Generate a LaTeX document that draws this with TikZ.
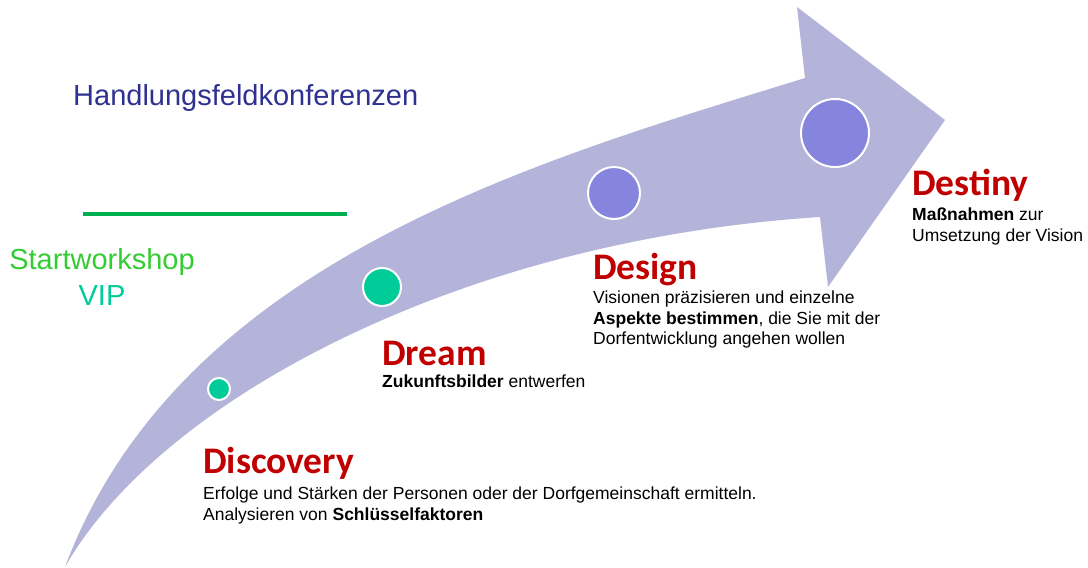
\documentclass[tikz,border=0pt]{standalone}
\usepackage{fontspec}
\setmainfont{Liberation Sans}
\newfontfamily\headfont{Carlito}
\usetikzlibrary{positioning}
\definecolor{arrowfill}{RGB}{180,180,218}
\definecolor{stepblue}{RGB}{133,133,222}
\definecolor{stepgreen}{RGB}{0,204,153}
\definecolor{headred}{RGB}{192,0,0}
\definecolor{titleblue}{RGB}{46,49,146}
\definecolor{startgreen}{RGB}{51,204,51}
\definecolor{linegreen}{RGB}{0,176,80}

\begin{document}
\begin{tikzpicture}[x=1pt, y=-1pt]
    \tikzset{
        heading/.style = {font=\headfont\bfseries\fontsize{37.5}{40}\selectfont, text=headred, inner sep=0pt, anchor=base west},
        body/.style = {font=\fontsize{17.5}{20.5}\selectfont, align=left, inner sep=0pt},
        phase/.style = {font=\fontsize{29}{36}\selectfont, inner sep=0pt},
        dot/.style = {circle, draw=white, line width=2pt, inner sep=0pt}
    }
    \useasboundingbox (0,0) rectangle (1088,568);

    \fill[arrowfill] (65,567) .. controls (180,260) and (540,160) .. (805,78) -- (797,7) -- (945,120)
        -- (828,287) -- (820,217) .. controls (460,240) and (160,400) .. (65,567) -- cycle;

    \node[dot, fill=stepgreen, minimum size=22pt] (discoveryDot) at (219,389) {};
    \node[dot, fill=stepgreen, minimum size=38pt] (dreamDot) at (382,287) {};
    \node[dot, fill=stepblue, minimum size=52pt] (designDot) at (614,193) {};
    \node[dot, fill=stepblue, minimum size=68pt] (destinyDot) at (835,133) {};

    \node[phase, text=titleblue, anchor=base west] (konferenzen) at (73,105) {Handlungsfeldkonferenzen};
    \coordinate (lineStart) at (83,214);
    \coordinate (lineEnd) at (347,214);
    \draw[linegreen, line width=4pt] (lineStart) -- (lineEnd);
    \node[phase, align=center, anchor=north] (startws) at (102,248) {\textcolor{startgreen}{Startworkshop}\\\textcolor{stepgreen}{VIP}};

    \node[heading] (discovery) at (203,473) {Discovery};
    \node[body, below=14pt of discovery.base west, anchor=north west] (discoveryTxt) {Erfolge und Stärken der Personen oder der Dorfgemeinschaft ermitteln.\\Analysieren von \textbf{Schlüsselfaktoren}};
    \node[heading] (dream) at (382,365) {Dream};
    \node[body, below=10pt of dream.base west, anchor=north west] (dreamTxt) {\textbf{Zukunftsbilder} entwerfen};
    \node[heading] (design) at (593,279) {Design};
    \node[body, below=12pt of design.base west, anchor=north west] (designTxt) {Visionen präzisieren und einzelne\\\textbf{Aspekte bestimmen}, die Sie mit der\\Dorfentwicklung angehen wollen};
    \node[heading] (destiny) at (912,195) {Destiny};
    \node[body, below=13pt of destiny.base west, anchor=north west] (destinyTxt) {\textbf{Maßnahmen} zur\\Umsetzung der Vision};
\end{tikzpicture}
\end{document}
